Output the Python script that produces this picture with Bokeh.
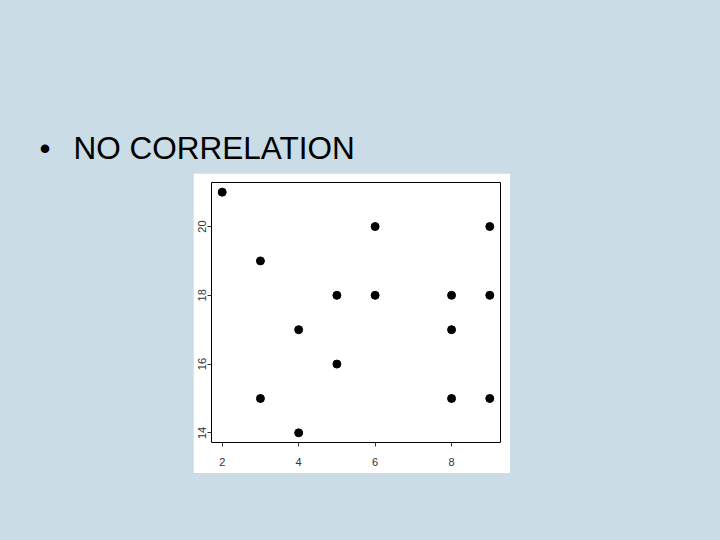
from bokeh.plotting import figure
from bokeh.layouts import column, row
from bokeh.models import Range1d, FixedTicker, Spacer, GlobalInlineStyleSheet, ColumnDataSource, Label
from bokeh.embed import file_html
from bokeh.resources import INLINE

# ---- data ----
x_vals = [2, 3, 3, 4, 4, 5, 5, 6, 6, 8, 8, 8, 9, 9, 9]
y_vals = [21, 19, 15, 17, 14, 18, 16, 20, 18, 18, 17, 15, 20, 18, 15]
x_ticks = [2, 4, 6, 8]
y_ticks = [14, 16, 18, 20]
title_text = "NO CORRELATION"
bullet = "\u2022"

BG = "#cadde6"
FONT = "Liberation Sans"

# ---- slide title area ----
TOP_H = 173
top = figure(width=704, height=TOP_H, output_backend="svg", toolbar_location=None,
             x_range=Range1d(0, 704), y_range=Range1d(TOP_H, 0),
             x_axis_location=None, y_axis_location=None, min_border=0)
top.grid.visible = False
top.outline_line_color = None
top.background_fill_color = BG
top.border_fill_color = BG
top.add_layout(Label(x=39, y=129, text=bullet, text_font=FONT, text_font_size="31.5px",
                     text_color="black", text_baseline="top", text_align="left"))
top.add_layout(Label(x=73, y=129, text=title_text, text_font=FONT, text_font_size="31.5px",
                     text_color="black", text_baseline="top", text_align="left"))

# ---- scatter plot ----
src = ColumnDataSource(dict(x=x_vals, y=y_vals))
p = figure(width=317, height=300, output_backend="svg", toolbar_location=None,
           x_range=Range1d(1.72, 9.28), y_range=Range1d(13.72, 21.28),
           min_border_left=18, min_border_right=10, min_border_top=9, min_border_bottom=31)
p.grid.visible = False
p.background_fill_color = "white"
p.border_fill_color = "white"
p.outline_line_color = "black"
p.outline_line_width = 1
p.scatter("x", "y", source=src, size=8, color="black", marker="circle")

p.xaxis.ticker = FixedTicker(ticks=x_ticks)
p.yaxis.ticker = FixedTicker(ticks=y_ticks)
for ax in (p.xaxis[0], p.yaxis[0]):
    ax.axis_line_color = None
    ax.major_tick_in = 0
    ax.major_tick_out = 4
    ax.minor_tick_in = 0
    ax.minor_tick_out = 0
    ax.major_tick_line_color = "#333333"
    ax.major_label_text_font = FONT
    ax.major_label_text_font_size = "11px"
    ax.major_label_text_color = "#333333"
p.xaxis.major_label_standoff = 11
p.yaxis.major_label_standoff = 1
p.yaxis.major_label_orientation = "vertical"

layout = column(
    top,
    row(Spacer(width=193, height=300), p, Spacer(width=194, height=300)),
    Spacer(width=704, height=51),
    width=704, height=524,
    styles={"background-color": BG},
    stylesheets=[GlobalInlineStyleSheet(css="body { background-color: %s; }" % BG)],
)

open("out.html", "w").write(file_html(layout, INLINE))
